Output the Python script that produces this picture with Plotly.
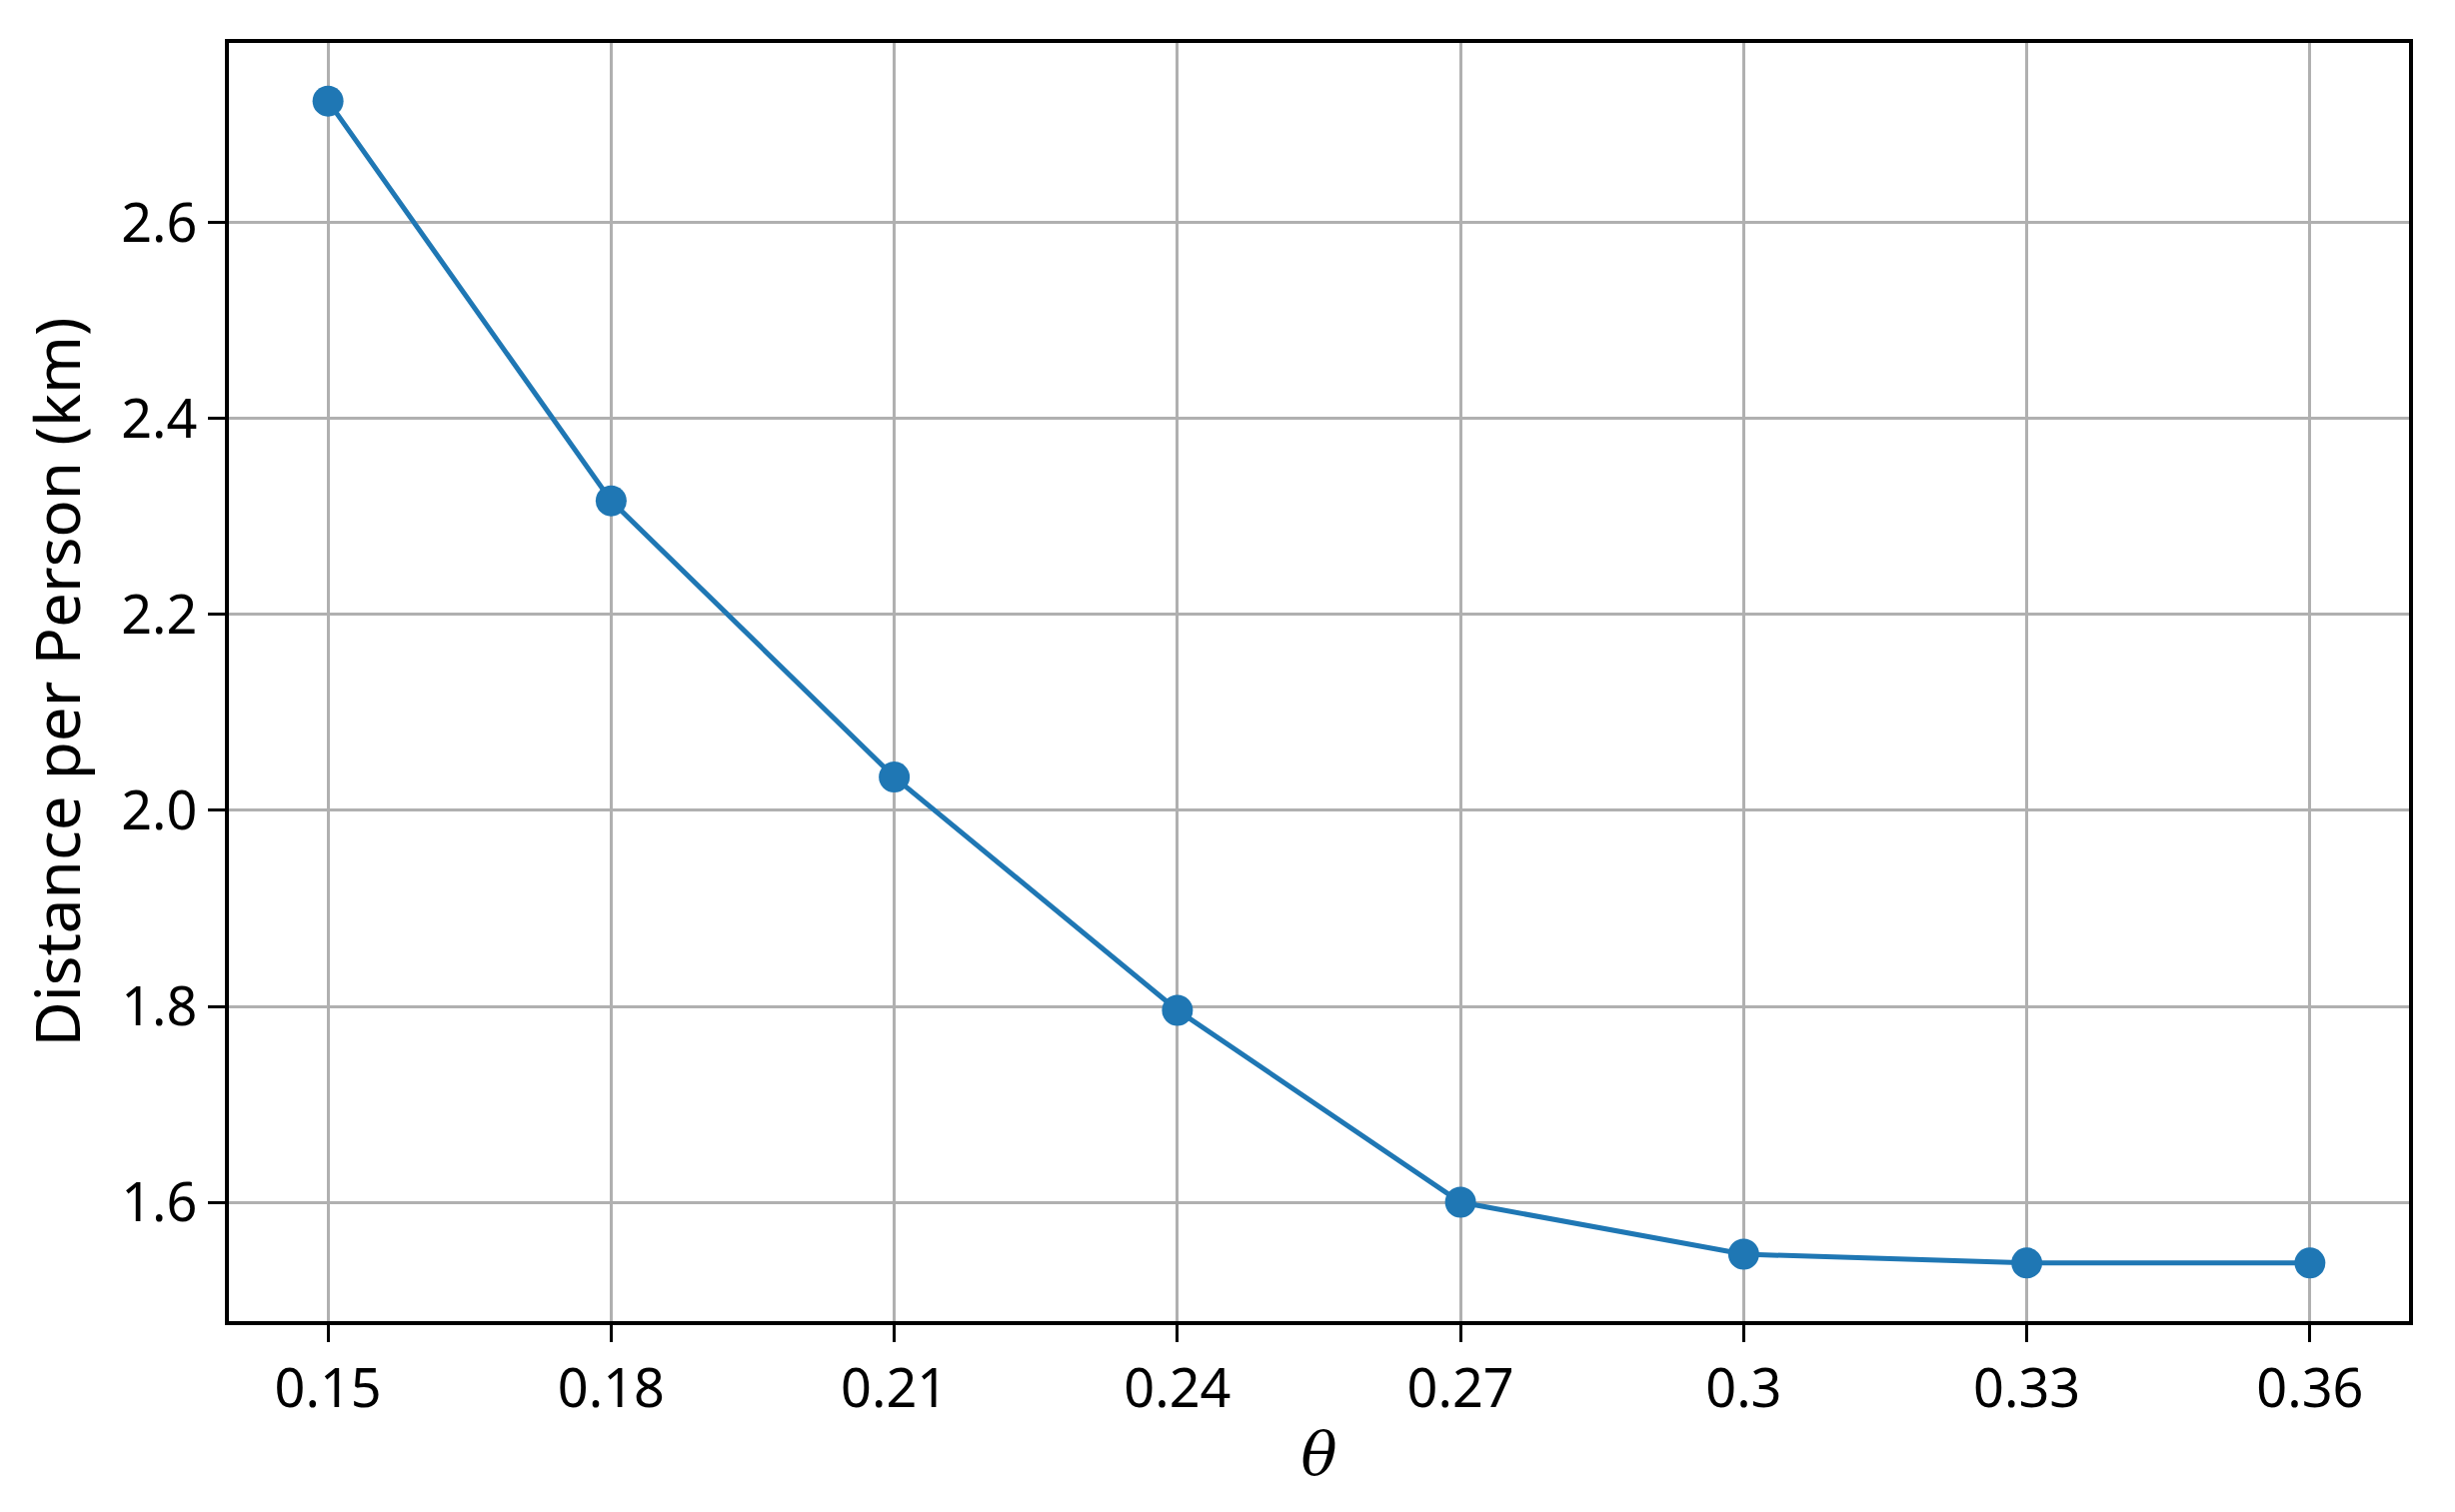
import plotly.graph_objects as go

# theta values and the distance per person
theta = [0.15, 0.18, 0.21, 0.24, 0.27, 0.30, 0.33, 0.36]
distance = [2.724, 2.316, 2.034, 1.796, 1.600, 1.547, 1.538, 1.538]

x_tick_labels = ["0.15", "0.18", "0.21", "0.24", "0.27", "0.3", "0.33", "0.36"]
y_ticks = [1.6, 1.8, 2.0, 2.2, 2.4, 2.6]

font_family = "Noto Sans, sans-serif"

fig = go.Figure()
fig.add_trace(go.Scatter(
    x=theta, y=distance, mode="lines+markers",
    line=dict(color="#1f77b4", width=5),
    marker=dict(color="#1f77b4", size=31),
))

axis_style = dict(
    showline=True, linecolor="black", linewidth=3.5, mirror=True,
    ticks="outside", ticklen=17, tickwidth=3, tickcolor="black",
    showgrid=True, gridcolor="#b0b0b0", gridwidth=2.5,
    zeroline=False,
    tickfont=dict(family=font_family, size=54, color="black"),
)

# page body has an 8px margin, so the figure is a bit smaller than the window
fig.update_layout(
    width=2448, height=1505,
    margin=dict(l=221, r=46, t=35, b=191),
    plot_bgcolor="white", paper_bgcolor="white",
    showlegend=False,
    xaxis=dict(
        range=[0.1395, 0.3705],
        tickvals=theta, ticktext=x_tick_labels,
        title=dict(text="<i>θ</i>", font=dict(family="DejaVu Serif", size=60, color="black"), standoff=12),
        **axis_style,
    ),
    yaxis=dict(
        range=[1.4787, 2.7833],
        tickvals=y_ticks, tickformat=".1f",
        title=dict(text="Distance per Person (km)", font=dict(family=font_family, size=62, color="black"), standoff=22),
        **axis_style,
    ),
)

fig.write_html("out.html")
